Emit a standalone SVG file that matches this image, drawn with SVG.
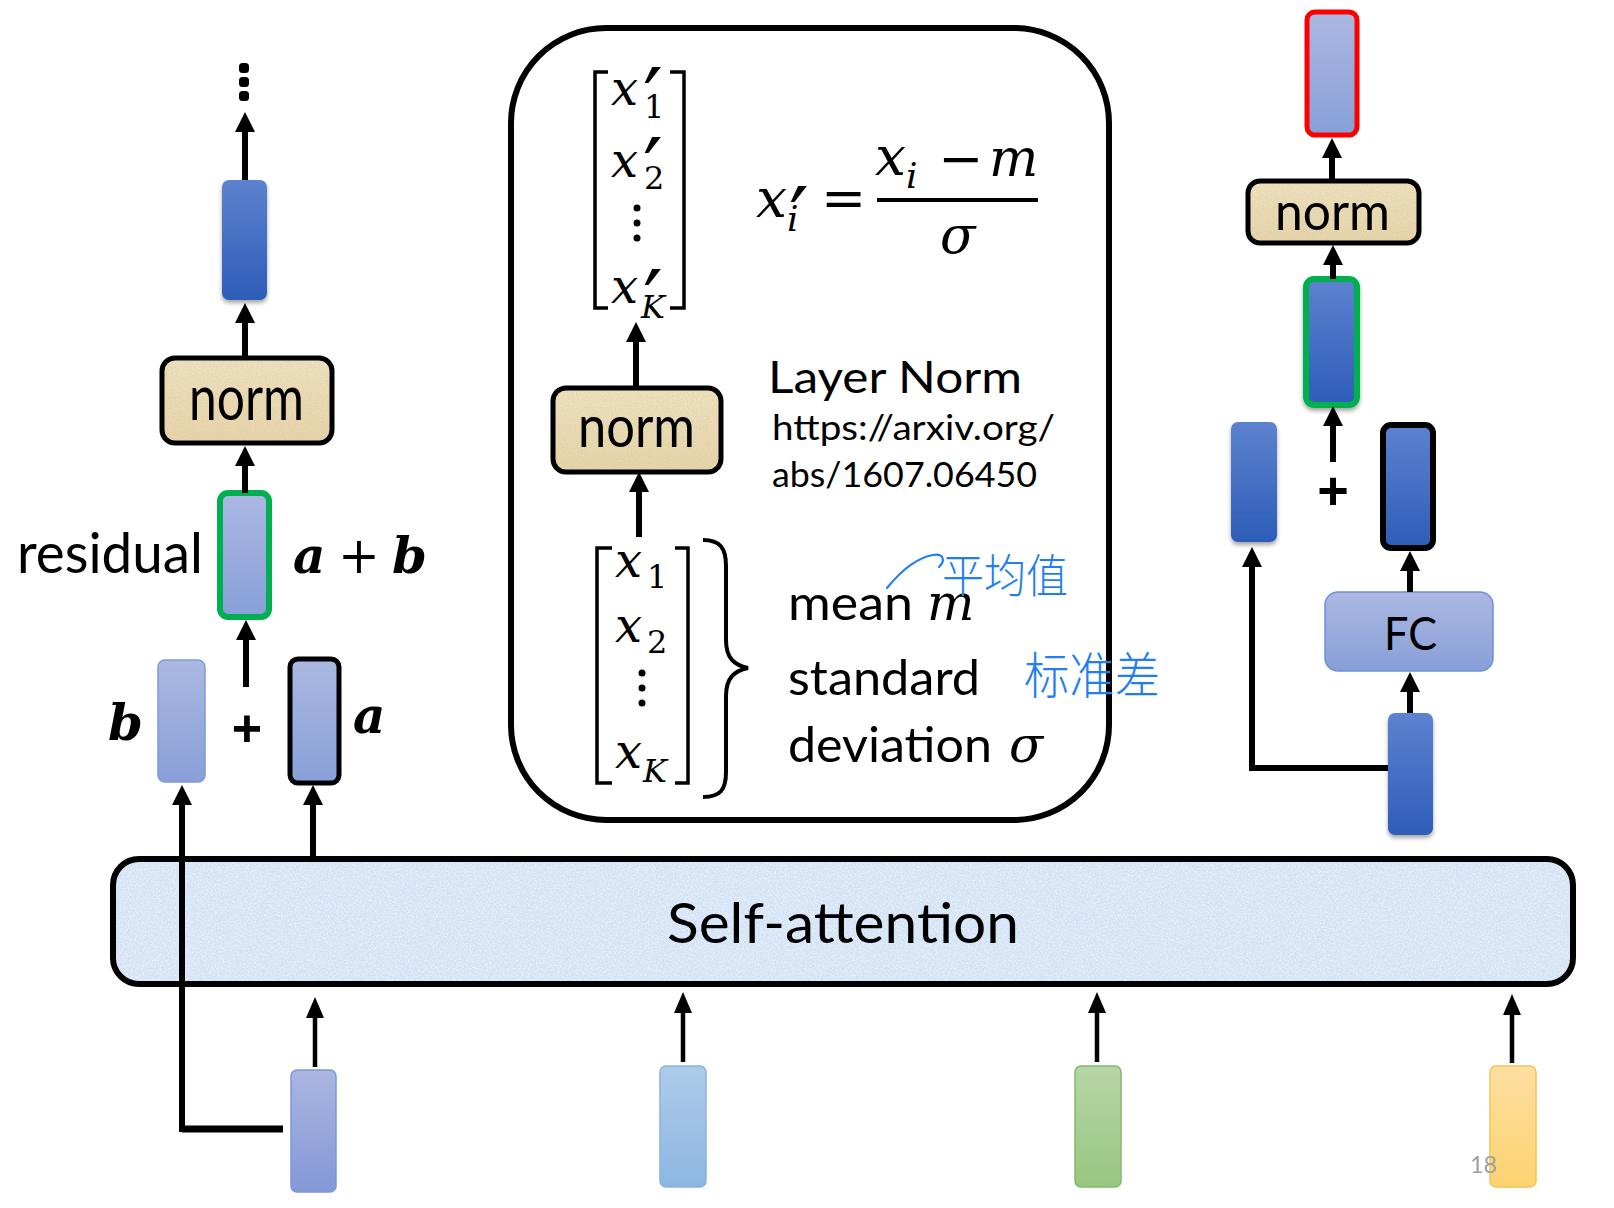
<svg xmlns="http://www.w3.org/2000/svg" width="1614" height="1208" viewBox="0 0 1614 1208">
<style>
.sans{font-family:Lato,"Open Sans","Liberation Sans",sans-serif;fill:#000}
.mi{font-family:"DejaVu Serif","Liberation Serif",serif;font-style:italic;fill:#000}
.mr{font-family:"DejaVu Serif","Liberation Serif",serif;font-style:normal;fill:#000}
.pr{font-family:"DejaVu Serif","Liberation Serif",serif;font-style:normal;fill:#000;font-size:88px}
.bi{font-family:"DejaVu Serif","Liberation Serif",serif;font-style:italic;font-weight:bold;fill:#000}
.cjk{font-family:"Noto Sans CJK SC","Noto Sans CJK JP",sans-serif;fill:#1f7ff0;font-weight:300}
.conn line,.conn path{stroke:#000;fill:none}
.a6{stroke-width:6}
.a5{stroke-width:4.5}
.dark{fill:url(#gDark);filter:url(#sh)}
.light{fill:url(#gLight)}
.nfill{fill:url(#gNorm);filter:url(#paper)}
.nstroke{fill:none;stroke:#000;stroke-width:5}
.br{fill:none;stroke:#000;stroke-width:3.5}
</style>
<defs>
<linearGradient id="gDark" x1="0" y1="0" x2="0" y2="1"><stop offset="0" stop-color="#5d82cf"/><stop offset="1" stop-color="#2d5db8"/></linearGradient>
<linearGradient id="gLight" x1="0" y1="0" x2="0" y2="1"><stop offset="0" stop-color="#abb8e2"/><stop offset="1" stop-color="#889fd8"/></linearGradient>
<linearGradient id="gNorm" x1="0" y1="0" x2="0" y2="1"><stop offset="0" stop-color="#efe2c0"/><stop offset="1" stop-color="#e7d5aa"/></linearGradient>
<linearGradient id="gB1" x1="0" y1="0" x2="0" y2="1"><stop offset="0" stop-color="#aab6e1"/><stop offset="1" stop-color="#8498d6"/></linearGradient>
<linearGradient id="gB2" x1="0" y1="0" x2="0" y2="1"><stop offset="0" stop-color="#afcbea"/><stop offset="1" stop-color="#8db6e3"/></linearGradient>
<linearGradient id="gB3" x1="0" y1="0" x2="0" y2="1"><stop offset="0" stop-color="#b6d6a6"/><stop offset="1" stop-color="#98c681"/></linearGradient>
<linearGradient id="gB4" x1="0" y1="0" x2="0" y2="1"><stop offset="0" stop-color="#fedfa2"/><stop offset="1" stop-color="#fdd270"/></linearGradient>
<filter id="sh" x="-30%" y="-10%" width="160%" height="125%"><feDropShadow dx="0" dy="3" stdDeviation="2" flood-color="#000" flood-opacity="0.35"/></filter>
<filter id="paper" x="0" y="0" width="100%" height="100%">
<feTurbulence type="fractalNoise" baseFrequency="0.8" numOctaves="2" seed="4" result="n"/>
<feColorMatrix in="n" type="matrix" values="0 0 0 0 0.6  0 0 0 0 0.5  0 0 0 0 0.3  0.9 0 0 0 -0.35" result="c"/>
<feComposite in="c" in2="SourceGraphic" operator="in" result="t"/>
<feMerge><feMergeNode in="SourceGraphic"/><feMergeNode in="t"/></feMerge>
</filter>
<filter id="ice" x="0" y="0" width="100%" height="100%">
<feTurbulence type="fractalNoise" baseFrequency="0.6" numOctaves="2" seed="7" result="n"/>
<feColorMatrix in="n" type="matrix" values="0 0 0 0 1  0 0 0 0 1  0 0 0 0 1  1.1 0 0 0 -0.4" result="c"/>
<feComposite in="c" in2="SourceGraphic" operator="in" result="t"/>
<feMerge><feMergeNode in="SourceGraphic"/><feMergeNode in="t"/></feMerge>
</filter>
<marker id="ah" markerUnits="userSpaceOnUse" markerWidth="22" markerHeight="22" refX="0" refY="10" orient="auto"><path d="M0,0 L20,10 L0,20 z" fill="#000"/></marker>
<marker id="ahs" markerUnits="userSpaceOnUse" markerWidth="22" markerHeight="22" refX="0" refY="9" orient="auto"><path d="M0,0 L21,9 L0,18 z" fill="#000"/></marker>
</defs>
<rect width="1614" height="1208" fill="#fff"/>

<!-- Self-attention -->
<g id="self-attention">
<rect x="113" y="859" width="1460" height="125" rx="26" fill="#d2e2f6" filter="url(#ice)"/>
<rect x="113" y="859" width="1460" height="125" rx="26" fill="none" stroke="#000" stroke-width="6"/>
<text class="sans" x="667" y="943" font-size="56" textLength="352" lengthAdjust="spacingAndGlyphs">Self-attention</text>
</g>

<!-- Bottom inputs -->
<g id="input-1"><rect x="291" y="1070" width="45" height="122" rx="6" fill="url(#gB1)" stroke="#7d96d6" stroke-width="1.5"/></g>
<g id="input-2"><rect x="660" y="1066" width="46" height="121" rx="6" fill="url(#gB2)" stroke="#8ab2e2" stroke-width="1.5"/></g>
<g id="input-3"><rect x="1075" y="1066" width="46" height="121" rx="6" fill="url(#gB3)" stroke="#82b968" stroke-width="1.5"/></g>
<g id="input-4"><rect x="1490" y="1066" width="46" height="121" rx="6" fill="url(#gB4)" stroke="#f5c652" stroke-width="1.5"/></g>
<g id="page-number"><text x="1470" y="1173" font-family="Lato,'Liberation Sans',sans-serif" font-size="24" fill="#a0a0a0" textLength="27" lengthAdjust="spacingAndGlyphs">18</text></g>

<!-- Left column -->
<g id="left-dots" fill="#000">
<rect x="239" y="63" width="10" height="10" rx="3.5"/>
<rect x="239" y="77" width="10" height="10" rx="3.5"/>
<rect x="239" y="91" width="10" height="10" rx="3.5"/>
</g>
<g id="left-top-vector"><rect x="222" y="180" width="45" height="120" rx="7" class="dark"/></g>
<g id="left-norm">
<rect x="162" y="358" width="170" height="85" rx="13" class="nfill"/>
<rect x="162" y="358" width="170" height="85" rx="13" class="nstroke"/>
<text class="sans" x="189" y="420" font-size="62" textLength="115" lengthAdjust="spacingAndGlyphs">norm</text>
</g>
<g id="left-residual">
<rect x="220" y="493" width="49" height="124" rx="8" class="light" stroke="#00b050" stroke-width="6"/>
<text class="sans" x="17" y="573" font-size="57" textLength="186" lengthAdjust="spacingAndGlyphs">residual</text>
<text class="bi" x="293" y="573" font-size="50">a<tspan class="mr" font-weight="normal" x="338" y="573">+</tspan><tspan x="392" y="573">b</tspan></text>
</g>
<g id="left-b">
<rect x="158" y="660" width="47" height="122" rx="7" class="light" stroke="#7b9bdc" stroke-width="1.5"/>
<text class="bi" x="108" y="740" font-size="50">b</text>
</g>
<g id="left-plus"><text x="247" y="746" font-family="'Liberation Sans',sans-serif" font-weight="bold" font-size="52" text-anchor="middle">+</text></g>
<g id="left-a">
<rect x="290" y="659" width="49" height="124" rx="8" class="light" stroke="#000" stroke-width="5"/>
<text class="bi" x="353" y="733" font-size="50">a</text>
</g>

<!-- Middle panel -->
<g id="layer-norm-panel">
<rect x="511" y="28" width="598" height="792" rx="95" fill="#fff" stroke="#000" stroke-width="6"/>
</g>
<g id="output-vector">
<path class="br" d="M608,72 L595,72 L595,308 L608,308"/>
<path class="br" d="M670,72 L684,72 L684,308 L670,308"/>
<text class="mi" x="611" y="105" font-size="48">x<tspan class="mr" x="644" y="118" font-size="32">1</tspan></text>
<text class="pr" x="643" y="131">′</text>
<text class="mi" x="611" y="177" font-size="48">x<tspan class="mr" x="644" y="189" font-size="32">2</tspan></text>
<text class="pr" x="643" y="201">′</text>
<circle cx="637" cy="208" r="3.5"/><circle cx="637" cy="223" r="3.5"/><circle cx="637" cy="238" r="3.5"/>
<text class="mi" x="611" y="303" font-size="48">x<tspan x="641" y="318" font-size="32">K</tspan></text>
<text class="pr" x="643" y="333">′</text>
</g>
<g id="formula">
<text class="mi" x="756" y="217" font-size="55">x<tspan x="787" y="231" font-size="36">i</tspan></text>
<text class="pr" x="789" y="250" font-size="104">′</text>
<text class="mr" x="821" y="217" font-size="54">=</text>
<line x1="877" y1="200" x2="1038" y2="200" stroke="#000" stroke-width="4"/>
<text class="mi" x="875" y="175" font-size="55">x<tspan x="906" y="188" font-size="36">i</tspan><tspan class="mr" x="938" y="177" font-size="54">−</tspan><tspan x="989" y="176" font-size="52">m</tspan></text>
<text class="mi" x="940" y="253" font-size="52">σ</text>
</g>
<g id="middle-norm">
<rect x="553" y="388" width="168" height="84" rx="13" class="nfill"/>
<rect x="553" y="388" width="168" height="84" rx="13" class="nstroke"/>
<text class="sans" x="578" y="447" font-size="58" textLength="117" lengthAdjust="spacingAndGlyphs">norm</text>
</g>
<g id="layer-norm-label">
<text class="sans" x="768" y="393" font-size="44" textLength="254" lengthAdjust="spacingAndGlyphs">Layer Norm</text>
<text class="sans" x="772" y="440" font-size="35" textLength="283" lengthAdjust="spacingAndGlyphs">https://arxiv.org/</text>
<text class="sans" x="772" y="487" font-size="35" textLength="265" lengthAdjust="spacingAndGlyphs">abs/1607.06450</text>
</g>
<g id="input-vector">
<path class="br" d="M612,548 L597,548 L597,783 L612,783"/>
<path class="br" d="M675,548 L688,548 L688,783 L675,783"/>
<text class="mi" x="615" y="577" font-size="48">x<tspan class="mr" x="647" y="588" font-size="32">1</tspan></text>
<text class="mi" x="615" y="642" font-size="48">x<tspan class="mr" x="647" y="653" font-size="32">2</tspan></text>
<circle cx="642" cy="673" r="3.5"/><circle cx="642" cy="688" r="3.5"/><circle cx="642" cy="703" r="3.5"/>
<text class="mi" x="615" y="768" font-size="48">x<tspan x="643" y="782" font-size="32">K</tspan></text>
<path d="M703,540 C720,540 726,548 726,566 L726,640 C726,658 734,665 748,668 C734,671 726,678 726,696 L726,772 C726,790 720,797 703,797" fill="none" stroke="#000" stroke-width="4"/>
</g>
<g id="statistics">
<text class="sans" x="788" y="620" font-size="49"><tspan textLength="125" lengthAdjust="spacingAndGlyphs">mean</tspan><tspan class="mi" x="927" y="620" font-size="50">m</tspan></text>
<text class="sans" x="788" y="695" font-size="49" textLength="192" lengthAdjust="spacingAndGlyphs">standard</text>
<text class="sans" x="788" y="762" font-size="49"><tspan textLength="204" lengthAdjust="spacingAndGlyphs">deviation</tspan><tspan class="mi" x="1009" y="762" font-size="50">σ</tspan></text>
</g>
<g id="annotations">
<path d="M887,588 C900,572 915,558 933,555 C943,553 946,560 939,567" fill="none" stroke="#1f7ff0" stroke-width="2.2" stroke-linecap="round"/>
<text class="cjk" x="942" y="592" font-size="46" textLength="126" lengthAdjust="spacingAndGlyphs">平均值</text>
<text class="cjk" x="1024" y="694" font-size="50" textLength="136" lengthAdjust="spacingAndGlyphs">标准差</text>
</g>

<!-- Right column -->
<g id="right-output"><rect x="1307" y="12" width="50" height="123" rx="8" class="light" stroke="#ff0000" stroke-width="5"/></g>
<g id="right-norm">
<rect x="1248" y="181" width="171" height="62" rx="12" class="nfill"/>
<rect x="1248" y="181" width="171" height="62" rx="12" class="nstroke"/>
<text class="sans" x="1275" y="230" font-size="53" textLength="115" lengthAdjust="spacingAndGlyphs">norm</text>
</g>
<g id="right-residual"><rect x="1306" y="279" width="51" height="126" rx="8" fill="url(#gDark)" stroke="#00b050" stroke-width="6" filter="url(#sh)"/></g>
<g id="right-skip"><rect x="1231" y="422" width="46" height="120" rx="7" class="dark"/></g>
<g id="right-plus"><text x="1333" y="509" font-family="'Liberation Sans',sans-serif" font-weight="bold" font-size="54" text-anchor="middle">+</text></g>
<g id="right-fc-out"><rect x="1383" y="425" width="50" height="123" rx="8" fill="url(#gDark)" stroke="#000" stroke-width="6"/></g>
<g id="right-fc">
<rect x="1325" y="592" width="168" height="79" rx="13" fill="url(#gLight)" stroke="#6f8fd8" stroke-width="1.5"/>
<text class="sans" x="1384" y="650" font-size="46" textLength="53" lengthAdjust="spacingAndGlyphs">FC</text>
</g>
<g id="right-input"><rect x="1388" y="713" width="45" height="122" rx="7" class="dark"/></g>

<!-- Connectors -->
<g id="connectors" class="conn">
<line class="a6" x1="245" y1="180" x2="245" y2="132" marker-end="url(#ah)"/>
<line class="a6" x1="245" y1="358" x2="245" y2="323" marker-end="url(#ah)"/>
<line class="a6" x1="245" y1="493" x2="245" y2="466" marker-end="url(#ah)"/>
<line class="a6" x1="246" y1="687" x2="246" y2="640" marker-end="url(#ah)"/>
<line x1="182" y1="1129" x2="283" y2="1129" stroke-width="7"/>
<line class="a6" x1="182" y1="1132" x2="182" y2="805" marker-end="url(#ah)"/>
<line class="a6" x1="313" y1="856" x2="313" y2="805" marker-end="url(#ah)"/>
<line class="a5" x1="315" y1="1067" x2="315" y2="1018" marker-end="url(#ahs)"/>
<line class="a5" x1="683" y1="1062" x2="683" y2="1013" marker-end="url(#ahs)"/>
<line class="a5" x1="1097" y1="1062" x2="1097" y2="1013" marker-end="url(#ahs)"/>
<line class="a5" x1="1512" y1="1063" x2="1512" y2="1015" marker-end="url(#ahs)"/>
<line class="a6" x1="639" y1="537" x2="639" y2="492" marker-end="url(#ah)"/>
<line class="a6" x1="636" y1="390" x2="636" y2="342" marker-end="url(#ah)"/>
<line class="a6" x1="1332" y1="181" x2="1332" y2="158" marker-end="url(#ah)"/>
<line class="a6" x1="1333" y1="279" x2="1333" y2="265" marker-end="url(#ah)"/>
<line class="a6" x1="1333" y1="462" x2="1333" y2="426" marker-end="url(#ah)"/>
<line class="a6" x1="1410" y1="592" x2="1410" y2="571" marker-end="url(#ah)"/>
<line class="a6" x1="1410" y1="713" x2="1410" y2="692" marker-end="url(#ah)"/>
<path class="a6" d="M1388,768 L1252,768 L1252,567" marker-end="url(#ah)"/>
</g>
</svg>
